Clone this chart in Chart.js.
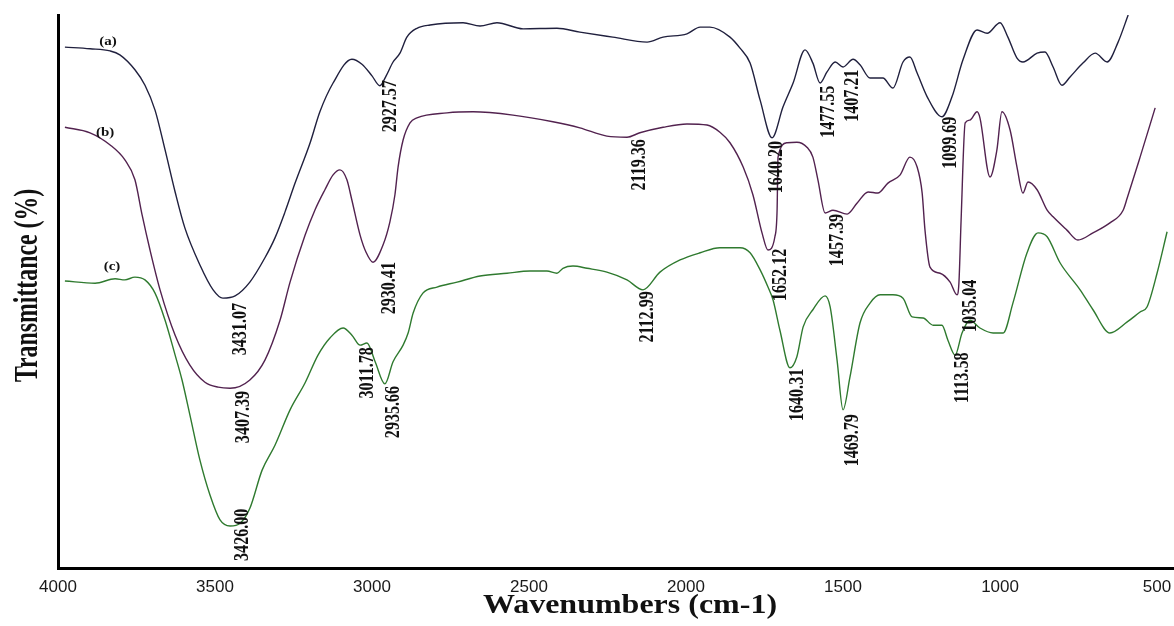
<!DOCTYPE html>
<html>
<head>
<meta charset="utf-8">
<script src="https://cdn.jsdelivr.net/npm/chart.js@4.4.1/dist/chart.umd.min.js"></script>
<style>
  html, body { margin: 0; padding: 0; background: #fff; }
  #wrap { width: 1174px; height: 626px; position: relative; }
</style>
</head>
<body>
<div id="wrap"><canvas id="ftir"></canvas></div>
<script>
// FTIR spectra (a), (b), (c): wavenumber (cm-1) vs transmittance (relative %, curves offset)
const waveA = [3978,3898,3834,3803,3755,3723,3691,3659,3627,3596,3548,3506,3475,3436,3389,3341,3309,3277,3245,3197,3166,3124,3064,3032,3000,2975,2955,2933,2911,2889,2857,2815,2710,2656,2602,2519,2411,2338,2233,2124,2073,1997,1955,1924,1860,1828,1796,1764,1726,1691,1659,1621,1596,1573,1551,1525,1500,1468,1446,1414,1373,1341,1309,1287,1264,1232,1185,1153,1118,1073,1041,1000,975,946,927,882,857,831,803,777,736,697,659,624,592];
const transA = [94.2,93.9,93.5,92.8,90.1,87.3,82.8,75.6,68.0,61.5,54.8,50.3,48.8,49.2,51.7,56.1,59.7,64.4,69.6,76.9,82.5,87.7,92.0,91.1,89.0,87.2,89.0,91.5,93.1,96.0,97.6,98.2,98.6,98.0,98.6,97.5,97.6,96.9,96.0,95.1,96.0,96.6,97.8,97.8,96.0,94.0,91.3,84.6,77.8,83.4,87.7,93.7,91.3,87.7,89.7,91.5,90.6,92.0,91.0,88.6,88.6,86.8,91.5,92.4,89.5,85.2,81.6,85.2,91.9,97.3,96.7,98.6,96.0,92.2,91.5,93.1,93.3,90.6,87.3,88.8,91.3,93.1,91.5,95.1,100.0];

const waveB = [3978,3898,3834,3787,3755,3732,3707,3675,3627,3580,3532,3490,3452,3389,3341,3293,3261,3213,3182,3150,3124,3102,3080,3064,3038,3019,2997,2965,2943,2927,2917,2901,2879,2857,2761,2678,2551,2424,2338,2252,2188,2147,2073,1997,1933,1892,1860,1818,1787,1758,1739,1717,1710,1707,1678,1647,1615,1596,1580,1557,1532,1487,1455,1420,1389,1357,1318,1287,1264,1248,1239,1223,1191,1159,1137,1131,1124,1111,1096,1073,1064,1032,1010,994,968,946,927,911,882,850,831,787,752,704,650,608,595,554,506];
const transB = [79.7,78.7,76.5,73.8,70.2,63.8,57.5,50.3,42.1,36.7,33.6,32.7,32.5,34.0,37.6,44.8,51.7,60.2,64.7,68.4,71.1,72.0,70.2,66.5,60.2,57.1,55.3,58.4,62.6,67.5,72.5,77.4,80.5,81.4,82.3,82.5,81.9,80.7,79.6,78.1,77.9,78.7,79.7,80.3,80.1,78.8,76.9,72.5,67.5,60.6,57.5,59.9,64.7,74.3,76.9,77.0,76.1,74.3,70.2,64.2,64.7,64.0,66.0,68.0,67.8,69.6,71.1,74.3,72.5,67.8,61.1,54.4,53.3,51.7,49.4,51.5,62.9,80.5,81.0,82.5,81.4,70.7,75.6,82.5,79.2,72.5,67.8,69.8,68.4,64.7,63.5,61.1,59.3,60.6,62.4,64.7,66.9,74.3,83.2];

const waveC = [3978,3882,3818,3787,3755,3723,3691,3659,3627,3605,3580,3548,3516,3484,3452,3420,3389,3350,3309,3261,3213,3172,3134,3092,3064,3038,3016,2990,2959,2933,2901,2885,2869,2838,2793,2729,2656,2570,2497,2443,2411,2392,2360,2315,2252,2188,2137,2083,2019,1955,1892,1828,1796,1764,1739,1723,1701,1669,1647,1627,1596,1557,1541,1519,1500,1478,1446,1414,1382,1341,1309,1280,1245,1213,1185,1166,1143,1121,1096,1064,1022,990,959,914,879,850,809,745,704,650,595,554,532,500,468];
const transC = [51.9,51.5,52.3,52.1,52.6,52.1,49.7,44.8,38.5,34.0,27.7,19.5,13.2,8.7,7.6,8.1,10.8,17.7,22.2,28.6,33.5,38.5,41.6,43.4,42.1,40.3,40.7,37.3,33.3,37.3,40.3,42.5,46.1,49.7,50.8,51.7,52.8,53.3,53.7,53.7,53.3,54.2,54.6,54.2,53.5,52.1,50.3,53.5,55.7,57.0,57.9,57.9,57.0,53.9,50.8,48.5,43.0,36.2,38.2,43.6,46.7,49.2,47.2,37.6,28.6,34.5,44.3,47.9,49.4,49.4,48.8,45.4,45.2,43.9,43.9,41.2,38.5,42.5,44.8,43.4,42.5,42.5,47.9,57.0,60.6,59.9,55.2,50.3,46.7,42.5,44.5,46.3,47.2,53.3,60.8];

// x tick labels
const xTicks = [4000, 3500, 3000, 2500, 2000, 1500, 1000, 500];

// axis titles
const xTitle = 'Wavenumbers (cm-1)';
const yTitle = 'Transmittance (%)';

// peak annotations (text, anchor wavenumber, anchor transmittance)
const peakLabels = ['3431.07','2927.57','1640.20','1477.55','1407.21','1099.69',
                    '3407.39','2930.41','2119.36','1652.12','1457.39','1035.04',
                    '3426.00','3011.78','2935.66','2112.99','1640.31','1469.79','1113.58'];
const peakX = [3420,2943,1713,1548,1471,1159, 3411,2946,2150,1701,1519,1096, 3414,3016,2933,2124,1647,1471,1121];
const peakY = [43.2,83.5,72.5,82.5,85.4,76.9, 27.3,50.6,72.9,53.0,59.3,47.4, 6.0,35.3,28.2,45.4,31.3,23.1,34.4];

// curve tags
const tagLabels = ['(a)', '(b)', '(c)'];
const tagX = [3841, 3850, 3828];
const tagY = [95.1, 78.8, 54.4];

function pts(xs, ys) {
    const n = Math.min(xs.length, ys.length);
    const out = [];
    for (let i = 0; i < n; i++) out.push({ x: xs[i], y: ys[i] });
    return out;
}

const SERIF = '"Liberation Serif", "Times New Roman", serif';

// the source figure is squashed vertically, so text is drawn a bit condensed
function squashedText(ctx, text, cx, cy, rotate, sx, sy) {
    ctx.save();
    ctx.translate(cx, cy);
    if (rotate) ctx.rotate(-Math.PI / 2);
    ctx.scale(sx, sy);
    ctx.fillText(text, 0, 0);
    ctx.restore();
}

const annotations = {
    id: 'annotations',
    afterDatasetsDraw(chart) {
        const { ctx, chartArea, scales: { x, y } } = chart;
        ctx.save();
        ctx.fillStyle = '#111';
        ctx.textAlign = 'center';
        ctx.textBaseline = 'middle';

        ctx.font = 'bold 22px ' + SERIF;
        peakLabels.forEach((t, i) => {
            squashedText(ctx, t, x.getPixelForValue(peakX[i]), y.getPixelForValue(peakY[i]), true, 0.73, 1);
        });

        ctx.font = 'bold 15px ' + SERIF;
        tagLabels.forEach((t, i) => {
            squashedText(ctx, t, x.getPixelForValue(tagX[i]), y.getPixelForValue(tagY[i]), false, 1, 0.85);
        });

        // axis titles
        ctx.font = 'bold 34px ' + SERIF;
        squashedText(ctx, yTitle, 28, (chartArea.top + chartArea.bottom) / 2 - 6, true, 0.7, 1);
        ctx.font = 'bold 32px ' + SERIF;
        squashedText(ctx, xTitle, 630, 606, false, 1, 0.88);
        ctx.restore();
    }
};

const line = (label, data, color) => ({
    label, data,
    borderColor: color,
    borderWidth: 1.4,
    pointRadius: 0,
    fill: false,
    cubicInterpolationMode: 'monotone',
});

new Chart(document.getElementById('ftir'), {
    type: 'line',
    data: {
        datasets: [
            line('(a)', pts(waveA, transA), '#20203e'),
            line('(b)', pts(waveB, transB), '#52224f'),
            line('(c)', pts(waveC, transC), '#2f7a2f'),
        ],
    },
    options: {
        responsive: true,
        maintainAspectRatio: false,
        animation: false,
        layout: { padding: { top: 15, right: 0, left: 0, bottom: 0 } },
        plugins: {
            legend: { display: false },
            tooltip: { enabled: false },
        },
        scales: {
            x: {
                type: 'linear',
                reverse: true,
                min: 446,
                max: 4000,
                afterFit: (s) => { s.height = 58; s.paddingLeft = 0; s.paddingRight = 0; },
                afterBuildTicks: (s) => { s.ticks = xTicks.map(v => ({ value: v })); },
                grid: { display: false, drawTicks: false },
                border: { display: true, color: '#000', width: 3 },
                ticks: {
                    autoSkip: false,
                    maxRotation: 0,
                    padding: 9,
                    color: '#1a1a1a',
                    font: { family: '"Liberation Sans", Arial, sans-serif', size: 17 },
                    callback: (v) => String(v),
                },
                title: { display: false },
            },
            y: {
                min: 0,
                max: 100,
                afterFit: (s) => { s.width = 58; },
                grid: { display: false, drawTicks: false },
                border: { display: true, color: '#000', width: 3 },
                ticks: { display: false },
                title: { display: false },
            },
        },
    },
    plugins: [annotations],
});
</script>
</body>
</html>
